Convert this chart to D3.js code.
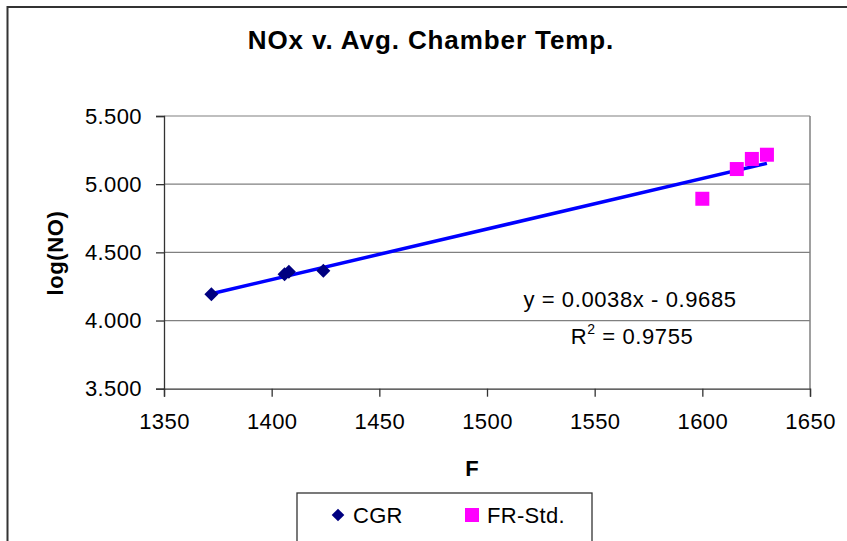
<!DOCTYPE html>
<html lang="en">
<head>
<meta charset="utf-8">
<title>NOx v. Avg. Chamber Temp.</title>
<script src="https://d3js.org/d3.v7.min.js"></script>
<style>
  body { margin: 0; background: #fff; }
  svg text { font-family: Arial, "Liberation Sans", sans-serif; fill: #000; }
</style>
</head>
<body>
<div id="canvas"></div>
<script>
// data
const cgrTemp = [1372, 1406, 1408, 1424]
const cgrLogNO = [4.193, 4.339, 4.358, 4.365]
const frTemp = [1600, 1616, 1623, 1630]
const frLogNO = [4.893, 5.111, 5.185, 5.216]
const xTicks = [1350, 1400, 1450, 1500, 1550, 1600, 1650]
const yTicks = [3.5, 4.0, 4.5, 5.0, 5.5]
const seriesNames = ["CGR", "FR-Std."]
const eqText = "y = 0.0038x - 0.9685"
const r2Value = "0.9755"

const width = 847, height = 541
const svg = d3.select("#canvas").append("svg")
  .attr("width", width).attr("height", height)

// outer chart border (right/bottom run off the page)
svg.append("path")
  .attr("d", "M7.5,560 L7.5,7 L860,7")
  .attr("fill", "none").attr("stroke", "#333").attr("stroke-width", 2)

const x = d3.scaleLinear().domain([1350, 1650]).range([164, 810])
const y = d3.scaleLinear().domain([3.5, 5.5]).range([388.7, 116])

// grid lines
svg.append("g").selectAll("line").data(yTicks.slice(1)).join("line")
  .attr("x1", x(1350)).attr("x2", x(1650))
  .attr("y1", d => y(d)).attr("y2", d => y(d))
  .attr("stroke", "#808080").attr("stroke-width", 1.2)
// plot area right edge
svg.append("line")
  .attr("x1", x(1650)).attr("x2", x(1650)).attr("y1", y(5.5)).attr("y2", y(3.5))
  .attr("stroke", "#808080").attr("stroke-width", 1.5)

const fmt = d3.format(".3f")
const yAxis = svg.append("g").attr("transform", `translate(${x(1350)},0)`)
  .call(d3.axisLeft(y).tickValues(yTicks).tickFormat(fmt).tickSize(8).tickPadding(14))
const xAxis = svg.append("g").attr("transform", `translate(0,${y(3.5)})`)
  .call(d3.axisBottom(x).tickValues(xTicks).tickFormat(d3.format("d")).tickSize(8).tickPadding(14))
for (const ax of [xAxis, yAxis]) {
  ax.select(".domain").attr("stroke", "#333").attr("stroke-width", 1.3)
  ax.selectAll(".tick line").attr("stroke", "#333").attr("stroke-width", 1.3)
  ax.selectAll(".tick text").attr("font-size", 22).attr("letter-spacing", 0.4)
    .attr("font-family", "Arial, 'Liberation Sans', sans-serif").attr("fill", "#000")
}
xAxis.selectAll(".tick text").attr("dy", "0.85em")

// trendline (least squares over both series)
const allPts = cgrTemp.map((t, i) => [t, cgrLogNO[i]])
  .concat(frTemp.map((t, i) => [t, frLogNO[i]]))
const mx = d3.mean(allPts, d => d[0]), my = d3.mean(allPts, d => d[1])
const slope = d3.sum(allPts, d => (d[0] - mx) * (d[1] - my)) / d3.sum(allPts, d => (d[0] - mx) ** 2)
const icpt = my - slope * mx
const xExt = d3.extent(allPts, d => d[0])
svg.append("line")
  .attr("x1", x(xExt[0])).attr("y1", y(slope * xExt[0] + icpt))
  .attr("x2", x(xExt[1])).attr("y2", y(slope * xExt[1] + icpt))
  .attr("stroke", "#0000ff").attr("stroke-width", 3.5)

// markers
const diamond = d3.symbol().type(d3.symbolSquare).size(98)
svg.append("g").selectAll("path").data(cgrTemp).join("path")
  .attr("d", diamond)
  .attr("transform", (d, i) => `translate(${x(d)},${y(cgrLogNO[i])}) rotate(45)`)
  .attr("fill", "#000080")
svg.append("g").selectAll("rect").data(frTemp).join("rect")
  .attr("x", d => x(d) - 7).attr("y", (d, i) => y(frLogNO[i]) - 7)
  .attr("width", 14).attr("height", 14)
  .attr("fill", "#ff00ff")

// title and axis labels
svg.append("text").attr("x", 431).attr("y", 49).attr("text-anchor", "middle")
  .attr("font-size", 26).attr("font-weight", "bold").attr("letter-spacing", 0.9)
  .text("NOx v. Avg. Chamber Temp.")
svg.append("text").attr("transform", "translate(63,253) rotate(-90)")
  .attr("text-anchor", "middle").attr("font-size", 22).attr("font-weight", "bold")
  .attr("letter-spacing", 0.6).text("log(NO)")
svg.append("text").attr("x", 472).attr("y", 476).attr("text-anchor", "middle")
  .attr("font-size", 22).attr("font-weight", "bold").text("F")

// regression label
svg.append("text").attr("x", 630).attr("y", 307).attr("text-anchor", "middle")
  .attr("font-size", 22).attr("letter-spacing", 0.6).text(eqText)
const r2 = svg.append("text").attr("x", 632).attr("y", 344).attr("text-anchor", "middle")
  .attr("font-size", 22).attr("letter-spacing", 0.6)
r2.append("tspan").text("R")
r2.append("tspan").attr("font-size", 14).attr("dy", -10).text("2")
r2.append("tspan").attr("dy", 10).text(" = " + r2Value)

// legend
const lg = svg.append("g")
lg.append("rect").attr("x", 297).attr("y", 493).attr("width", 295).attr("height", 80)
  .attr("fill", "#fff").attr("stroke", "#333").attr("stroke-width", 1.3)
lg.append("path").attr("d", d3.symbol().type(d3.symbolSquare).size(80))
  .attr("transform", "translate(338,515) rotate(45)").attr("fill", "#000080")
lg.append("rect").attr("x", 465).attr("y", 508).attr("width", 14).attr("height", 14)
  .attr("fill", "#ff00ff")
lg.selectAll("text").data(seriesNames).join("text")
  .attr("x", (d, i) => i ? 487 : 353).attr("y", 523)
  .attr("font-size", 22).attr("letter-spacing", 0.3).text(d => d)
</script>
</body>
</html>
